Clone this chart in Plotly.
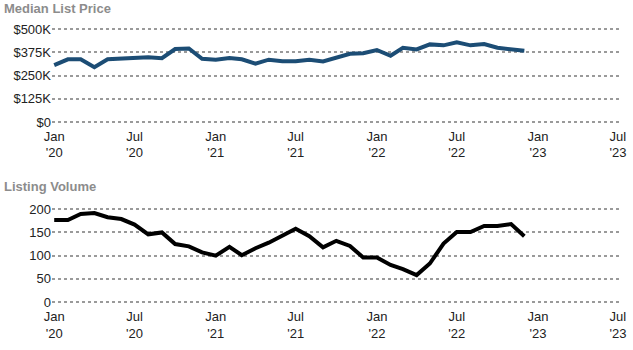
import plotly.graph_objects as go
import pandas as pd

months = pd.date_range("2020-01-01", "2022-12-01", freq="MS")

median_price = [306, 337, 337, 295, 337, 340, 344, 348, 343, 392, 395, 340,
                335, 344, 337, 313, 335, 326, 326, 335, 325, 347, 367, 370,
                387, 356, 399, 390, 417, 412, 428, 412, 419, 399, 392, 383]
median_price = [v * 1000 for v in median_price]

listing_volume = [177, 177, 190, 192, 183, 179, 167, 146, 150, 125, 120, 107,
                  100, 119, 101, 116, 128, 144, 158, 142, 118, 132, 121, 96,
                  96, 80, 71, 58, 83, 126, 151, 151, 164, 164, 168, 142]

price_ticks = [0, 125000, 250000, 375000, 500000]
price_labels = ["$0", "$125K", "$250K", "$375K", "$500K"]
vol_ticks = [0, 50, 100, 150, 200]

x_tickvals = ["2020-01-01", "2020-07-01", "2021-01-01", "2021-07-01",
              "2022-01-01", "2022-07-01", "2023-01-01", "2023-07-01"]
x_ticktext = ["Jan<br>'20", "Jul<br>'20", "Jan<br>'21", "Jul<br>'21",
              "Jan<br>'22", "Jul<br>'22", "Jan<br>'23", "Jul<br>'23"]

FONT = "Liberation Sans, Arial, sans-serif"

fig = go.Figure()
fig.add_trace(go.Scatter(x=months, y=median_price, mode="lines",
                         line=dict(color="#1c4d75", width=4),
                         xaxis="x", yaxis="y", showlegend=False))
fig.add_trace(go.Scatter(x=months, y=listing_volume, mode="lines",
                         line=dict(color="#000000", width=4),
                         xaxis="x2", yaxis="y2", showlegend=False))

xcommon = dict(type="date", range=["2019-12-27", "2023-07-08"],
               tickvals=x_tickvals, ticktext=x_ticktext,
               showgrid=False, zeroline=False, showline=False,
               ticks="outside", ticklen=0, tickcolor="rgba(0,0,0,0)",
               tickfont=dict(family=FONT, size=13, color="#222222"),
               fixedrange=True, automargin=False)
ycommon = dict(showgrid=True, gridcolor="#9a9a9a", gridwidth=2, griddash="dot",
               zeroline=False, showline=False, ticks="",
               tickfont=dict(family=FONT, size=13, color="#222222"),
               fixedrange=True, automargin=False)

fig.update_layout(
    width=633, height=350,
    margin=dict(l=52, r=12, t=0, b=0, autoexpand=False),
    paper_bgcolor="white", plot_bgcolor="white",
    xaxis=dict(**xcommon, domain=[0, 1], anchor="y"),
    xaxis2=dict(**xcommon, domain=[0, 1], anchor="y2"),
    yaxis=dict(**ycommon, domain=[0.646, 0.9226], range=[-10000, 510000],
               tickvals=price_ticks, ticktext=price_labels, anchor="x"),
    yaxis2=dict(**ycommon, domain=[0.1306, 0.4086], range=[-5, 205],
                tickvals=vol_ticks, anchor="x2"),
    annotations=[
        dict(text="<b>Median List Price</b>", x=0, xref="paper", xanchor="left",
             xshift=-50, y=1, yref="paper", yanchor="top", yshift=1,
             showarrow=False, font=dict(family=FONT, size=13, color="#8c8c8c")),
        dict(text="<b>Listing Volume</b>", x=0, xref="paper", xanchor="left",
             xshift=-50, y=1 - 177 / 350, yref="paper", yanchor="top",
             showarrow=False, font=dict(family=FONT, size=13, color="#8c8c8c")),
    ],
)

fig.write_html("out.html")
